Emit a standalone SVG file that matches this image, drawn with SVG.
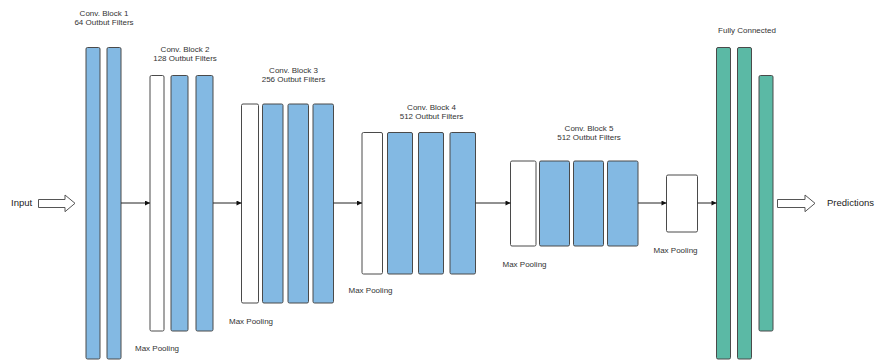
<svg xmlns="http://www.w3.org/2000/svg" width="876" height="360" viewBox="0 0 876 360">
<defs>
<style>
.b{fill:#83b9e3;stroke:#4a4a4a;stroke-width:1}
.w{fill:#ffffff;stroke:#4a4a4a;stroke-width:1}
.g{fill:#5bb9a5;stroke:#4a4a4a;stroke-width:1}
.t{font-family:"Liberation Sans",Arial,sans-serif;font-size:8px;fill:#333333;text-anchor:middle}
.tl{font-family:"Liberation Sans",Arial,sans-serif;font-size:8px;fill:#333333}
.big{font-family:"Liberation Sans",Arial,sans-serif;font-size:9.5px;fill:#222222}
.c{stroke:#222222;stroke-width:1;fill:none;marker-end:url(#ah)}
.ha{fill:#ffffff;stroke:#555555;stroke-width:1;stroke-linejoin:round}
</style>
<marker id="ah" viewBox="0 0 10 10" refX="10" refY="5" markerWidth="6" markerHeight="5" markerUnits="userSpaceOnUse" orient="auto">
<path d="M0,0 L10,5 L0,10 z" fill="#111111"/>
</marker>
</defs>
<rect width="876" height="360" fill="#ffffff"/>

<g id="input">
<text class="big" x="11" y="206">Input</text>
<path class="ha" d="M38.5,199.5 H65 V195 L75,203.3 L65,211.7 V207.5 H38.5 z"/>
</g>

<g id="block1">
<text class="t" x="104" y="16">Conv. Block 1</text>
<text class="t" x="104" y="25">64 Outbut Filters</text>
<rect class="b" x="86" y="47.5" width="14" height="311.5" rx="1.5"/>
<rect class="b" x="107" y="47.5" width="14" height="311.5" rx="1.5"/>
</g>

<g id="block2">
<text class="t" x="185" y="51.5">Conv. Block 2</text>
<text class="t" x="185" y="61">128 Outbut Filters</text>
<rect class="w" x="150" y="75.5" width="14" height="255.5" rx="1.5"/>
<rect class="b" x="171" y="75.5" width="17" height="255.5" rx="1.5"/>
<rect class="b" x="196" y="75.5" width="17" height="255.5" rx="1.5"/>
<text class="tl" x="135" y="351">Max Pooling</text>
</g>

<g id="block3">
<text class="t" x="293.5" y="73">Conv. Block 3</text>
<text class="t" x="293.5" y="82">256 Outbut Filters</text>
<rect class="w" x="241.5" y="104" width="17" height="199" rx="1.5"/>
<rect class="b" x="262.5" y="104" width="20.5" height="199" rx="1.5"/>
<rect class="b" x="288" y="104" width="20.5" height="199" rx="1.5"/>
<rect class="b" x="313" y="104" width="20.5" height="199" rx="1.5"/>
<text class="tl" x="229" y="324">Max Pooling</text>
</g>

<g id="block4">
<text class="t" x="431.5" y="109.5">Conv. Block 4</text>
<text class="t" x="431.5" y="119">512 Outbut Filters</text>
<rect class="w" x="362" y="132.5" width="20.5" height="141.5" rx="1.5"/>
<rect class="b" x="387.5" y="132.5" width="25" height="141.5" rx="1.5"/>
<rect class="b" x="418.5" y="132.5" width="25" height="141.5" rx="1.5"/>
<rect class="b" x="450" y="132.5" width="25.5" height="141.5" rx="1.5"/>
<text class="tl" x="348.5" y="292.5">Max Pooling</text>
</g>

<g id="block5">
<text class="t" x="589" y="130.5">Conv. Block 5</text>
<text class="t" x="589" y="140">512 Outbut Filters</text>
<rect class="w" x="510.5" y="161" width="25.5" height="85" rx="1.5"/>
<rect class="b" x="539.5" y="161" width="30" height="85" rx="1.5"/>
<rect class="b" x="573.5" y="161" width="30" height="85" rx="1.5"/>
<rect class="b" x="607.5" y="161" width="30.5" height="85" rx="1.5"/>
<text class="tl" x="502.5" y="267">Max Pooling</text>
</g>

<g id="pool5">
<rect class="w" x="666.5" y="175" width="31" height="57" rx="1.5"/>
<text class="tl" x="653.5" y="253">Max Pooling</text>
</g>

<g id="fc">
<text class="t" x="747" y="33">Fully Connected</text>
<rect class="g" x="716.5" y="47.5" width="14" height="311.5" rx="1.5"/>
<rect class="g" x="737.5" y="47.5" width="14" height="311.5" rx="1.5"/>
<rect class="g" x="759" y="75.5" width="14" height="255.5" rx="1.5"/>
</g>

<g id="predictions">
<path class="ha" d="M777.5,199.5 H805 V195 L815,203.3 L805,211.7 V207.5 H777.5 z"/>
<text class="big" x="827" y="206">Predictions</text>
</g>

<g id="connectors">
<line class="c" x1="121" y1="203" x2="150" y2="203"/>
<line class="c" x1="213" y1="203" x2="241.5" y2="203"/>
<line class="c" x1="333.5" y1="203" x2="362" y2="203"/>
<line class="c" x1="475.5" y1="203" x2="510.5" y2="203"/>
<line class="c" x1="638" y1="203" x2="666.5" y2="203"/>
<line class="c" x1="697.5" y1="203" x2="716.5" y2="203"/>
</g>
</svg>
